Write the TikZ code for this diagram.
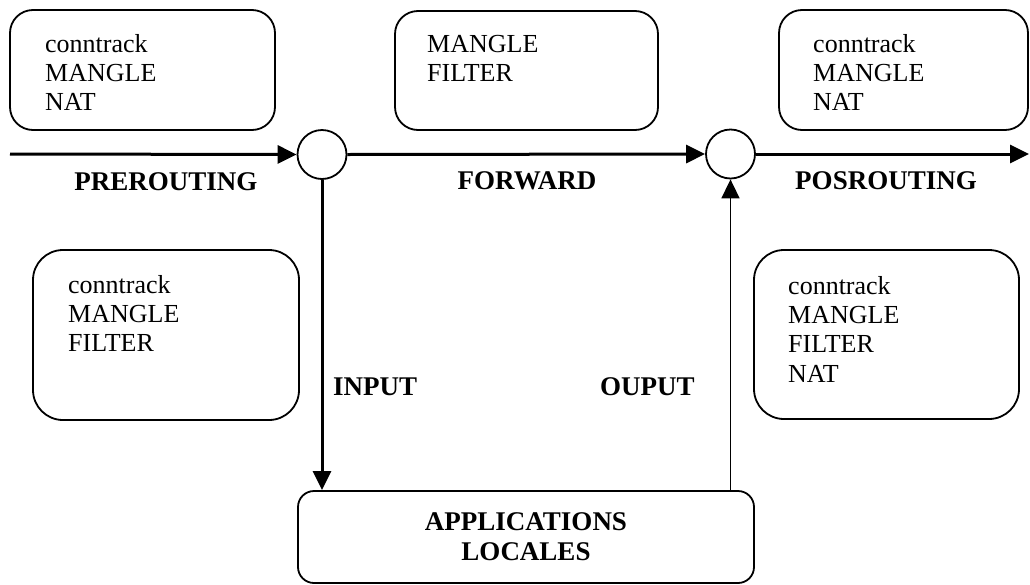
\documentclass[tikz,border=0pt]{standalone}
\usepackage{fontspec}
\setmainfont{Liberation Serif}
\usetikzlibrary{arrows.meta}

\tikzset{
  chainbox/.style={draw, line width=1.8pt, inner sep=0pt},
  tables/.style={anchor=north west, inner sep=0pt, align=left,
    font={\fontsize{26}{29.3}\selectfont}},
  hookname/.style={font={\fontsize{27}{30}\selectfont\bfseries}, inner sep=0pt},
  junction/.style={draw, circle, line width=1.8pt, minimum size=49pt, inner sep=0pt},
  flow/.style={line width=3pt, -{Triangle[length=19pt,width=18pt]}},
  thinflow/.style={line width=1.7pt, -{Triangle[length=19pt,width=18pt]}}
}

\begin{document}
\begin{tikzpicture}[x=1pt,y=-1pt]
\useasboundingbox (0,0) rectangle (1030,584);

% table boxes
\node[chainbox, rounded corners=23pt, minimum width=265pt, minimum height=120pt] (pre) at (142.5,70) {};
\node[tables] (pretxt) at (45,34) {conntrack\\MANGLE\\NAT};

\node[chainbox, rounded corners=23pt, minimum width=263pt, minimum height=119pt] (fwd) at (526.5,70.5) {};
\node[tables] (fwdtxt) at (427,35) {MANGLE\\FILTER};

\node[chainbox, rounded corners=23pt, minimum width=249pt, minimum height=120pt] (post) at (903.5,70) {};
\node[tables] (posttxt) at (813,34) {conntrack\\MANGLE\\NAT};

\node[chainbox, rounded corners=30pt, minimum width=266pt, minimum height=170pt] (inp) at (166,335) {};
\node[tables] (inptxt) at (68,275) {conntrack\\MANGLE\\FILTER};

\node[chainbox, rounded corners=30pt, minimum width=265pt, minimum height=169pt] (outp) at (886.5,334.5) {};
\node[tables] (outptxt) at (788,276) {conntrack\\MANGLE\\FILTER\\NAT};

% local processes
\node[chainbox, rounded corners=16pt, minimum width=456pt, minimum height=92pt, align=center,
      font={\fontsize{27}{30}\selectfont\bfseries}] (apps) at (526,537) {APPLICATIONS\\LOCALES};

% routing decisions
\node[junction] (c1) at (322,154.5) {};
\node[junction] (c2) at (730.5,154) {};

\coordinate (entry) at (10,154);
\coordinate (exit) at (1029,154);

% packet paths
\draw[flow] (entry) -- (c1.west);
\draw[flow] (c1.east) -- (c2.west);
\draw[flow] (c2.east) -- (exit);
\draw[flow] (c1.south) -- (c1.south |- apps.north);
\draw[thinflow] (c2.south |- apps.north) -- (c2.south);

% hook names
\node[hookname, anchor=base] (lpre) at (166,190) {PREROUTING};
\node[hookname, anchor=base] (lfwd) at (527,189) {FORWARD};
\node[hookname, anchor=base] (lpost) at (886,189) {POSROUTING};
\node[hookname, anchor=base west] (lin) at (333,395) {INPUT};
\node[hookname, anchor=base west] (lout) at (600,395) {OUPUT};
\end{tikzpicture}
\end{document}
